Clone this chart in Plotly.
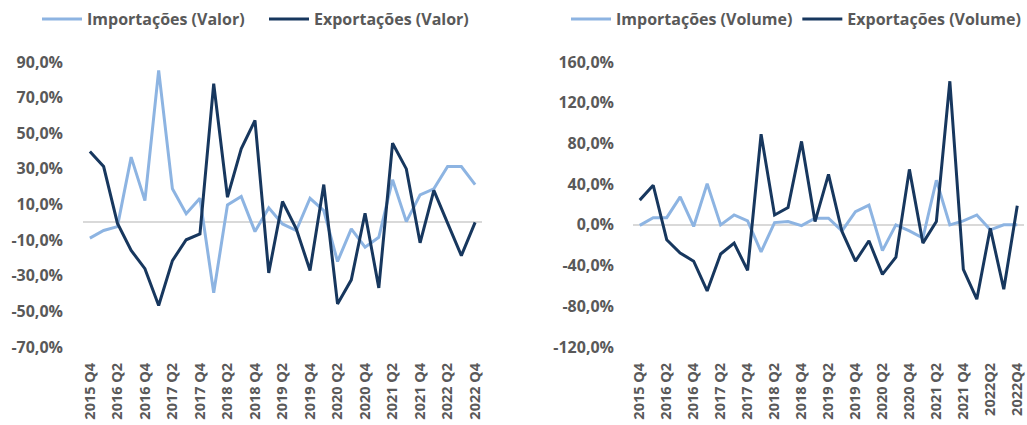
import plotly.graph_objects as go

W, H = 1027, 425

quarters = ["2015 Q4", "2016 Q1", "2016 Q2", "2016 Q3", "2016 Q4", "2017 Q1", "2017 Q2", "2017 Q3",
            "2017 Q4", "2018 Q1", "2018 Q2", "2018 Q3", "2018 Q4", "2019 Q1", "2019 Q2", "2019 Q3",
            "2019 Q4", "2020 Q1", "2020 Q2", "2020 Q3", "2020 Q4", "2021 Q1", "2021 Q2", "2021 Q3",
            "2021 Q4", "2022 Q1", "2022 Q2", "2022 Q3", "2022 Q4"]

tick_labels_left = ["2015 Q4", "2016 Q2", "2016 Q4", "2017 Q2", "2017 Q4", "2018 Q2", "2018 Q4",
                    "2019 Q2", "2019 Q4", "2020 Q2", "2020 Q4", "2021 Q2", "2021 Q4", "2022 Q2", "2022 Q4"]
tick_labels_right = ["2015 Q4", "2016 Q2", "2016 Q4", "2017 Q2", "2017 Q4", "2018 Q2", "2018 Q4",
                     "2019 Q2", "2019 Q4", "2020 Q2", "2020 Q4", "2021 Q2", "2021 Q4", "2022Q2", "2022Q4"]

imp_valor = [-8.9, -4.6, -2.4, 36.6, 12.2, 85.3, 18.8, 4.8, 13.5, -39.6, 9.8, 14.5, -5.2, 8.1, -0.9,
             -4.6, 13.5, 6.6, -22.0, -3.7, -14.0, -8.4, 23.9, 0.4, 15.4, 18.8, 31.3, 31.3, 21.2]
exp_valor = [39.8, 31.3, -0.5, -15.8, -26.0, -46.7, -21.5, -9.8, -6.5, 77.8, 14.1, 41.3, 57.2, -28.4, 11.7,
             -3.7, -27.0, 21.2, -45.8, -32.3, 5.1, -36.8, 44.4, 30.0, -11.5, 17.9, -0.5, -18.7, 0.0]

imp_volume = [-0.5, 7.1, 7.1, 27.5, -1.6, 40.5, 0.0, 9.7, 3.9, -26.6, 2.2, 3.2, -0.7, 6.5, 6.5,
              -5.9, 12.9, 19.4, -25.3, 0.0, -5.9, -13.0, 43.8, 0.0, 3.9, 9.7, -4.9, 0.0, 0.0]
exp_volume = [24.3, 38.9, -14.6, -27.6, -35.7, -64.9, -28.6, -17.9, -44.8, 89.1, 9.7, 17.1, 82.0, 3.2, 49.6,
              -6.5, -35.7, -15.6, -48.7, -31.8, 54.5, -17.9, 3.2, 141.1, -43.8, -73.0, -3.3, -63.3, 18.8]

yt_left = [-70, -50, -30, -10, 10, 30, 50, 70, 90]
yt_left_text = ["-70,0%", "-50,0%", "-30,0%", "-10,0%", "10,0%", "30,0%", "50,0%", "70,0%", "90,0%"]
yt_right = [-120, -80, -40, 0, 40, 80, 120, 160]
yt_right_text = ["-120,0%", "-80,0%", "-40,0%", "0,0%", "40,0%", "80,0%", "120,0%", "160,0%"]

LIGHT = "#8db4e2"
DARK = "#17375e"
GRAY = "#595959"
FONT = "Open Sans"

fig = go.Figure()
fig.add_trace(go.Scatter(x=quarters, y=imp_valor, mode="lines", name="Importações (Valor)",
                         line=dict(color=LIGHT, width=3), xaxis="x", yaxis="y", legend="legend"))
fig.add_trace(go.Scatter(x=quarters, y=exp_valor, mode="lines", name="Exportações (Valor)",
                         line=dict(color=DARK, width=3), xaxis="x", yaxis="y", legend="legend"))
fig.add_trace(go.Scatter(x=quarters, y=imp_volume, mode="lines", name="Importações (Volume)",
                         line=dict(color=LIGHT, width=3), xaxis="x2", yaxis="y2", legend="legend2"))
fig.add_trace(go.Scatter(x=quarters, y=exp_volume, mode="lines", name="Exportações (Volume)",
                         line=dict(color=DARK, width=3), xaxis="x2", yaxis="y2", legend="legend2"))

xfont = dict(family=FONT, size=14.5, color=GRAY, weight="bold")
yfont = dict(family=FONT, size=16, color=GRAY, weight="bold")
ytop = 1 - 62 / H
ybot = 1 - 347 / H

xcommon = dict(type="category", showgrid=False, showline=False, zeroline=False, tickangle=-90,
               tickfont=xfont, ticks="", ticklabelstandoff=12, fixedrange=True, automargin=False,
               range=[-0.5, len(quarters) - 0.5])
ycommon = dict(showgrid=False, showline=False, zeroline=True, zerolinecolor="#d9d9d9", zerolinewidth=1.5,
               tickfont=yfont, ticks="", automargin=False, fixedrange=True)

legfont = dict(family=FONT, size=16, color=GRAY, weight="bold")

fig.update_layout(
    width=W, height=H,
    margin=dict(l=0, r=0, t=0, b=0, autoexpand=False),
    paper_bgcolor="white", plot_bgcolor="white",
    font=dict(family=FONT, color=GRAY),
    xaxis=dict(xcommon, domain=[83 / W, 482 / W], anchor="y",
               tickmode="array", tickvals=quarters[::2], ticktext=tick_labels_left),
    yaxis=dict(ycommon, domain=[ybot, ytop], anchor="x", range=[-70, 90], ticklabelstandoff=19,
               tickmode="array", tickvals=yt_left, ticktext=yt_left_text),
    xaxis2=dict(xcommon, domain=[633 / W, 1024 / W], anchor="y2",
                tickmode="array", tickvals=quarters[::2], ticktext=tick_labels_right),
    yaxis2=dict(ycommon, domain=[ybot, ytop], anchor="x2", range=[-120, 160], ticklabelstandoff=18,
                tickmode="array", tickvals=yt_right, ticktext=yt_right_text),
    legend=dict(orientation="h", x=37 / W, xanchor="left", y=1 - 19 / H, yanchor="middle",
                font=legfont, itemwidth=40, entrywidth=172, bgcolor="rgba(0,0,0,0)"),
    legend2=dict(orientation="h", x=566 / W, xanchor="left", y=1 - 19 / H, yanchor="middle",
                 font=legfont, itemwidth=40, bgcolor="rgba(0,0,0,0)"),
    showlegend=True,
)

fig.write_html("out.html", config={"displayModeBar": False},
               post_script="document.body.style.margin='0';")
